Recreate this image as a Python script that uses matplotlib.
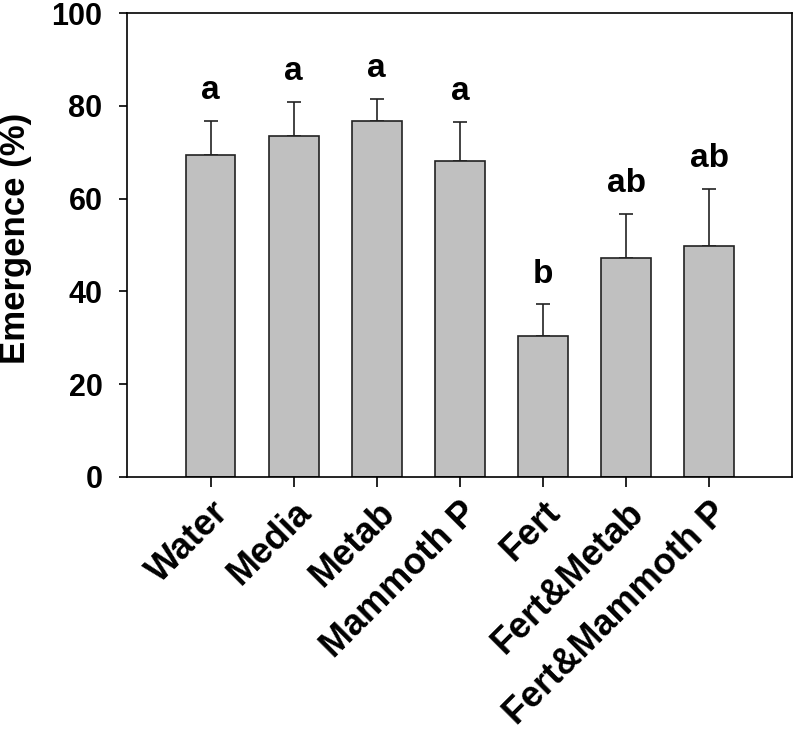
import matplotlib
matplotlib.use('Agg')
import matplotlib.pyplot as plt

plt.rcParams['font.family'] = ['Liberation Sans', 'DejaVu Sans']
plt.rcParams['font.weight'] = 'bold'

treatments = ['Water', 'Media', 'Metab', 'Mammoth P', 'Fert', 'Fert&Metab', 'Fert&Mammoth P']
emergence = [69.5, 73.6, 76.7, 68.1, 30.5, 47.2, 49.9]
sem = [7.3, 7.3, 4.8, 8.4, 6.7, 9.5, 12.2]
letters = ['a', 'a', 'a', 'a', 'b', 'ab', 'ab']

fig = plt.figure(figsize=(7.94, 7.30), dpi=100)
ax = fig.add_axes([0.1605, 0.3466, 0.8375, 0.6354])

x = list(range(len(treatments)))
ax.bar(x, emergence, width=0.6, color='#c0c0c0', edgecolor='#222222', linewidth=1.2, zorder=2)
ax.errorbar(x, emergence, yerr=[[0] * len(sem), sem], fmt='none', ecolor='#222222',
            elinewidth=1.2, capsize=5, capthick=1.2, zorder=1)

# significance letters above the error bars
for xi, v, e, lab in zip(x, emergence, sem, letters):
    ax.text(xi, v + e + 3.2, lab, ha='center', va='bottom', fontsize=24, fontweight='bold')

ax.set_xlim(-1, 7)
ax.set_ylim(0, 100)
ax.set_yticks([0, 20, 40, 60, 80, 100])
ax.set_xticks(x)
ax.set_xticklabels(treatments, rotation=45, ha='right', rotation_mode='anchor')
ax.tick_params(axis='both', direction='out', width=1.2)
ax.tick_params(axis='y', length=6, pad=12, labelsize=22)
ax.tick_params(axis='x', length=7, pad=6, labelsize=26)
for lab in ax.get_xticklabels() + ax.get_yticklabels():
    lab.set_fontweight('bold')
for sp in ax.spines.values():
    sp.set_linewidth(1.2)

ax.set_ylabel('Emergence (%)', fontsize=25, fontweight='bold')
ax.yaxis.set_label_coords(-0.143, 0.514)

fig.savefig('out.png', dpi=100)
